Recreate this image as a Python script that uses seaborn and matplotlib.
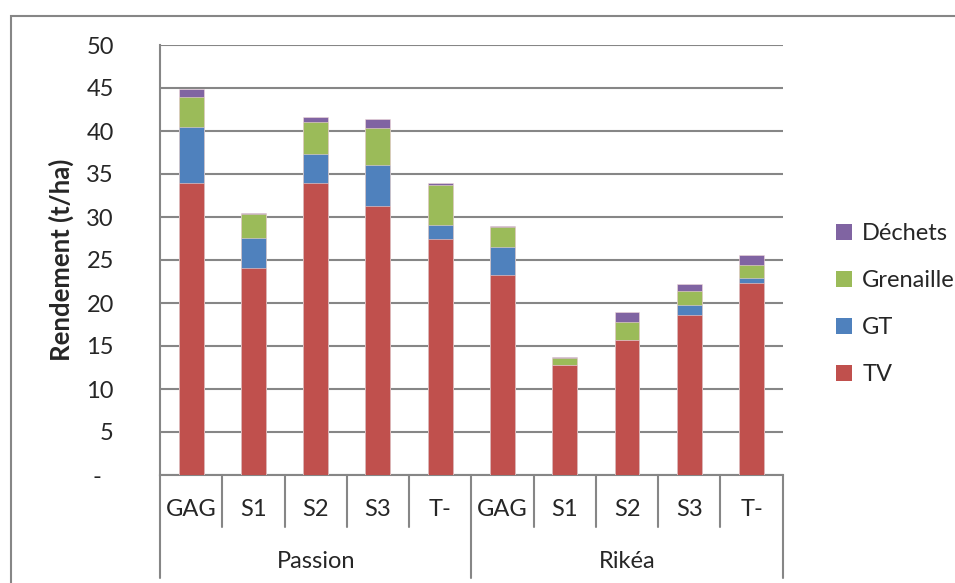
import numpy as np
import pandas as pd
import matplotlib
matplotlib.use("Agg")
import matplotlib.pyplot as plt
import matplotlib.transforms as mtransforms
from matplotlib.patches import Rectangle
from matplotlib.lines import Line2D
import seaborn as sns

# ---- data ----
groups = ["Passion", "Rikéa"]
treatments = ["GAG", "S1", "S2", "S3", "T-"]
tv        = [34.0, 24.1, 33.9, 31.3, 27.4, 23.3, 12.8, 15.7, 18.6, 22.3]
gt        = [6.5, 3.5, 3.4, 4.7, 1.7, 3.2, 0.0, 0.0, 1.2, 0.6]
grenaille = [3.5, 2.8, 3.8, 4.4, 4.65, 2.3, 0.8, 2.1, 1.6, 1.5]
dechets   = [0.85, 0.05, 0.5, 1.0, 0.15, 0.15, 0.1, 1.2, 0.8, 1.2]
series_names = ["TV", "GT", "Grenaille", "Déchets"]
colors = ["#C0504D", "#4F81BD", "#9BBB59", "#8064A2"]
yticks = list(range(0, 51, 5))
ytick_labels = ["-  "] + [str(v) for v in yticks[1:]]
ylabel = "Rendement (t/ha)"

keys = [f"{g}|{t}" for g in groups for t in treatments]
df = pd.DataFrame({"key": keys, "TV": tv, "GT": gt, "Grenaille": grenaille, "Déchets": dechets})
cum = df[series_names].cumsum(axis=1)
for s in series_names:
    df["cum_" + s] = cum[s]

sns.set_style("white")
plt.rcParams["font.family"] = ["Lato", "DejaVu Sans"]
FS = 17

W, H = 955, 583
fig = plt.figure(figsize=(W / 100, H / 100), dpi=100)
L, R, T, B = 160, 782.7, 45, 475
ax = fig.add_axes([L / W, 1 - B / H, (R - L) / W, (B - T) / H])

# outer frame
fig.add_artist(Rectangle((11 / W, -0.05), 1.2, 0.05 + 1 - 16 / H, transform=fig.transFigure,
                         fill=False, edgecolor="#868686", lw=1.5, zorder=0))

# stacked bars: draw cumulative totals from top layer down
for s, c in reversed(list(zip(series_names, colors))):
    sns.barplot(data=df, x="key", y="cum_" + s, order=keys, color=c, saturation=1,
                width=0.4, ax=ax, edgecolor="#f0d8d8", linewidth=0.4, zorder=3)

ax.set_xlim(-0.5, len(keys) - 0.5)
ax.set_ylim(0, 50)
ax.set_yticks(yticks)
ax.set_yticklabels(ytick_labels, fontsize=FS)
ax.set_xlabel("")
ax.set_ylabel(ylabel, fontsize=18.5, fontweight="bold")
ax.yaxis.set_label_coords((74 - L) / (R - L), 0.5)

ax.grid(axis="y", color="#868686", lw=1.5)
ax.set_axisbelow(True)
for sp in ["top", "right"]:
    ax.spines[sp].set_visible(False)
for sp in ["left", "bottom"]:
    ax.spines[sp].set_color("#868686")
    ax.spines[sp].set_linewidth(1.5)
ax.tick_params(axis="y", length=8, width=1.5, color="#868686", pad=(160 - 8 - 117) * 0.72)
ax.tick_params(axis="x", length=0, labelbottom=False)

# two-level category axis
trans = mtransforms.blended_transform_factory(ax.transData, ax.transAxes)
ah = B - T
y_cat = -(527 - B) / ah
y_grp = -(578 - B) / ah
for k in range(len(keys) + 1):
    xb = k - 0.5
    y_end = y_grp if k % len(treatments) == 0 else y_cat
    ax.add_line(Line2D([xb, xb], [0, y_end], transform=trans, color="#868686", lw=1.5, clip_on=False))
for i, k in enumerate(keys):
    ax.text(i, -(510 - B) / ah, k.split("|")[1], transform=trans, ha="center", va="center", fontsize=FS)
for gi, g in enumerate(groups):
    xc = gi * len(treatments) + (len(treatments) - 1) / 2
    ax.text(xc, -(562 - B) / ah, g, transform=trans, ha="center", va="center", fontsize=FS)

# legend
handles = [Rectangle((0, 0), 1, 1, facecolor=c, edgecolor="none") for c in colors]
leg = fig.legend(handles[::-1], series_names[::-1], loc="center left",
                 bbox_to_anchor=(815 / W, 1 - 304 / H), frameon=False, fontsize=FS,
                 handlelength=0.65, handleheight=0.65, handletextpad=0.45, labelspacing=1.1)

fig.savefig("out.png", dpi=100)
